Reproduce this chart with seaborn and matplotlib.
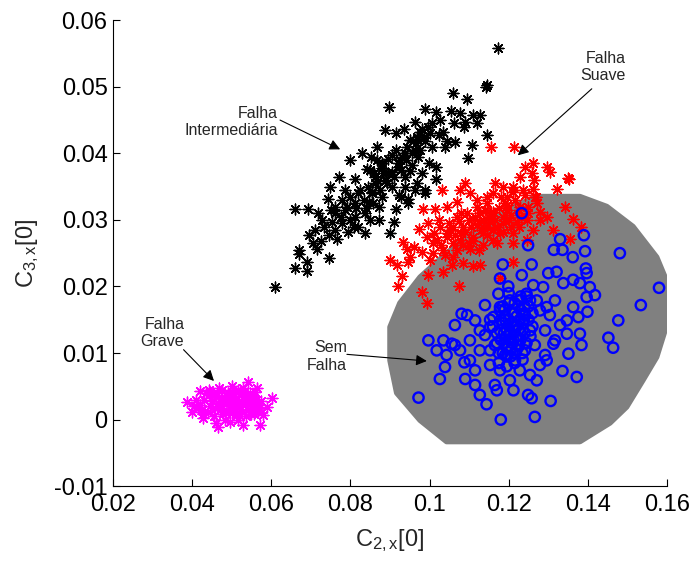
import pandas as pd
import matplotlib.pyplot as plt
import seaborn as sns

sns.set_theme(style="ticks")
plt.rcParams['font.family'] = ['Liberation Sans', 'DejaVu Sans']
plt.rcParams['mathtext.fontset'] = 'custom'
plt.rcParams['mathtext.rm'] = 'Liberation Sans'
plt.rcParams['mathtext.it'] = 'Liberation Sans:italic'

# Falha Intermediaria (black stars)
inter_x = [0.1173, 0.1142, 0.1146, 0.1058, 0.1094, 0.0898, 0.0989, 0.1016, 0.1055, 0.1077,
           0.1111, 0.1090, 0.1120, 0.1027, 0.1061, 0.1146, 0.1106, 0.1097, 0.0964, 0.0981,
           0.0935, 0.0914, 0.0888, 0.0968, 0.0989, 0.1023, 0.1044, 0.1065, 0.0867, 0.0829,
           0.0853, 0.0799, 0.0905, 0.0939, 0.0964, 0.1006, 0.1040, 0.0880, 0.0841, 0.0922,
           0.0956, 0.0998, 0.1015, 0.0772, 0.0812, 0.0863, 0.0896, 0.0939, 0.0981, 0.1015,
           0.0968, 0.0939, 0.0905, 0.0863, 0.0747, 0.0786, 0.0820, 0.0854, 0.0879, 0.0922,
           0.0964, 0.0989, 0.0744, 0.0778, 0.0812, 0.0846, 0.0871, 0.0914, 0.0946, 0.0929,
           0.0660, 0.0692, 0.0719, 0.0762, 0.0787, 0.0812, 0.0837, 0.0871, 0.0909, 0.0850,
           0.0729, 0.0754, 0.0779, 0.0808, 0.0837, 0.0795, 0.0762, 0.0745, 0.0766, 0.0900,
           0.0694, 0.0711, 0.0715, 0.0669, 0.0669, 0.0690, 0.0745, 0.0660, 0.0690, 0.0609,
           0.0849, 0.0882, 0.0866, 0.0925, 0.0942, 0.0976, 0.0967, 0.1001, 0.1035, 0.1086,
           0.1128, 0.0989, 0.0945,
           0.0760, 0.0775, 0.0790, 0.0800, 0.0815, 0.0825, 0.0835, 0.0845, 0.0855, 0.0860,
           0.0870, 0.0880, 0.0890, 0.0895, 0.0905, 0.0915, 0.0920, 0.0930, 0.0940, 0.0950,
           0.0955, 0.0965, 0.0975, 0.0985, 0.0995, 0.1005, 0.0800, 0.0820, 0.0840, 0.0858,
           0.0875, 0.0893, 0.0910, 0.0928, 0.0950, 0.0970, 0.0733, 0.0750, 0.0705, 0.0725]
inter_y = [0.0559, 0.0499, 0.0502, 0.0490, 0.0482, 0.0470, 0.0467, 0.0462, 0.0464, 0.0461,
           0.0457, 0.0447, 0.0445, 0.0450, 0.0446, 0.0428, 0.0413, 0.0393, 0.0447, 0.0437,
           0.0437, 0.0430, 0.0435, 0.0422, 0.0419, 0.0427, 0.0419, 0.0417, 0.0410, 0.0400,
           0.0395, 0.0390, 0.0397, 0.0400, 0.0405, 0.0410, 0.0410, 0.0385, 0.0377, 0.0380,
           0.0382, 0.0385, 0.0380, 0.0364, 0.0362, 0.0364, 0.0370, 0.0364, 0.0370, 0.0362,
           0.0355, 0.0350, 0.0350, 0.0355, 0.0350, 0.0345, 0.0340, 0.0342, 0.0334, 0.0337,
           0.0345, 0.0340, 0.0332, 0.0330, 0.0325, 0.0327, 0.0320, 0.0317, 0.0325, 0.0335,
           0.0316, 0.0317, 0.0310, 0.0310, 0.0315, 0.0305, 0.0310, 0.0300, 0.0297, 0.0300,
           0.0300, 0.0297, 0.0295, 0.0290, 0.0281, 0.0282, 0.0285, 0.0277, 0.0272, 0.0281,
           0.0277, 0.0285, 0.0257, 0.0255, 0.0249, 0.0237, 0.0243, 0.0227, 0.0223, 0.0199,
           0.0375, 0.0370, 0.0390, 0.0390, 0.0410, 0.0405, 0.0425, 0.0430, 0.0432, 0.0440,
           0.0457, 0.0345, 0.0331,
           0.0320, 0.0305, 0.0320, 0.0335, 0.0318, 0.0345, 0.0330, 0.0350, 0.0340, 0.0370,
           0.0358, 0.0378, 0.0360, 0.0392, 0.0372, 0.0405, 0.0385, 0.0395, 0.0390, 0.0420,
           0.0400, 0.0415, 0.0432, 0.0425, 0.0440, 0.0445, 0.0300, 0.0290, 0.0318, 0.0325,
           0.0345, 0.0355, 0.0365, 0.0375, 0.0373, 0.0395, 0.0290, 0.0315, 0.0265, 0.0268]

# Falha Suave (red stars)
suave_x = [0.1155, 0.1213, 0.1261, 0.1296, 0.1304, 0.1241, 0.1229, 0.1258, 0.1264, 0.1352,
           0.1321, 0.1090, 0.1077, 0.1102, 0.1165, 0.1186, 0.1161, 0.1195, 0.1212, 0.1237,
           0.1262, 0.1266, 0.1031, 0.0984, 0.1014, 0.1043, 0.1069, 0.1119, 0.1144, 0.1069,
           0.1094, 0.1127, 0.1161, 0.1195, 0.1229, 0.1271, 0.1279, 0.1296, 0.0997, 0.0972,
           0.1026, 0.1052, 0.1085, 0.1119, 0.1153, 0.1186, 0.1220, 0.1245, 0.0934, 0.0942,
           0.0993, 0.1009, 0.1043, 0.1077, 0.1110, 0.1144, 0.1178, 0.1212, 0.1262, 0.1279,
           0.0900, 0.0917, 0.0946, 0.0980, 0.1009, 0.1035, 0.1069, 0.1102, 0.1136, 0.1170,
           0.1212, 0.1245, 0.0930, 0.0921, 0.0997, 0.1035, 0.1056, 0.1085, 0.1127, 0.1212,
           0.1178, 0.0980, 0.0993, 0.1075, 0.1110, 0.1313, 0.1355, 0.1342, 0.1363, 0.1350,
           0.1384, 0.1100, 0.1150, 0.1130, 0.1170, 0.1200, 0.1080, 0.1050, 0.1140, 0.1190,
           0.1230, 0.1060, 0.1100, 0.1160, 0.1125, 0.1020, 0.1000, 0.1060,
           0.1010, 0.1030, 0.1045, 0.1060, 0.1075, 0.1090, 0.1105, 0.1115, 0.1125, 0.1135,
           0.1145, 0.1155, 0.1165, 0.1175, 0.1185, 0.1195, 0.1205, 0.1215, 0.1225, 0.1240,
           0.1250, 0.1040, 0.1065, 0.1085, 0.1110, 0.1135, 0.1160, 0.1185, 0.1205, 0.1225,
           0.1250, 0.1270, 0.1080, 0.1120, 0.1180, 0.1210, 0.0960, 0.0950, 0.1025, 0.1145]
suave_y = [0.0409, 0.0410, 0.0385, 0.0380, 0.0372, 0.0380, 0.0365, 0.0370, 0.0360, 0.0361,
           0.0347, 0.0355, 0.0345, 0.0340, 0.0355, 0.0350, 0.0340, 0.0335, 0.0342, 0.0345,
           0.0347, 0.0335, 0.0345, 0.0317, 0.0317, 0.0320, 0.0327, 0.0330, 0.0325, 0.0305,
           0.0310, 0.0310, 0.0312, 0.0315, 0.0320, 0.0325, 0.0312, 0.0305, 0.0295, 0.0287,
           0.0290, 0.0285, 0.0290, 0.0292, 0.0297, 0.0295, 0.0297, 0.0300, 0.0267, 0.0257,
           0.0275, 0.0265, 0.0275, 0.0270, 0.0275, 0.0277, 0.0280, 0.0280, 0.0285, 0.0300,
           0.0240, 0.0232, 0.0237, 0.0252, 0.0250, 0.0255, 0.0255, 0.0257, 0.0262, 0.0265,
           0.0265, 0.0270, 0.0215, 0.0200, 0.0217, 0.0222, 0.0232, 0.0235, 0.0232, 0.0237,
           0.0212, 0.0192, 0.0175, 0.0200, 0.0230, 0.0285, 0.0272, 0.0320, 0.0302, 0.0363,
           0.0290, 0.0300, 0.0305, 0.0285, 0.0290, 0.0300, 0.0280, 0.0295, 0.0315, 0.0325,
           0.0305, 0.0265, 0.0265, 0.0270, 0.0255, 0.0270, 0.0240, 0.0245,
           0.0280, 0.0262, 0.0280, 0.0290, 0.0298, 0.0282, 0.0290, 0.0305, 0.0295, 0.0300,
           0.0290, 0.0310, 0.0300, 0.0318, 0.0305, 0.0322, 0.0308, 0.0330, 0.0315, 0.0338,
           0.0320, 0.0248, 0.0278, 0.0262, 0.0268, 0.0280, 0.0285, 0.0282, 0.0290, 0.0290,
           0.0310, 0.0335, 0.0310, 0.0320, 0.0335, 0.0350, 0.0260, 0.0245, 0.0300, 0.0335]

# Falha Grave (magenta stars)
grave_x = [0.0542, 0.0563, 0.0601, 0.0386, 0.0420, 0.0445, 0.0466, 0.0529, 0.0571, 0.0580,
           0.0399, 0.0428, 0.0496, 0.0588, 0.0430, 0.0445, 0.0460, 0.0470, 0.0480, 0.0490,
           0.0500, 0.0510, 0.0520, 0.0530, 0.0540, 0.0550, 0.0560, 0.0455, 0.0475, 0.0495,
           0.0515, 0.0535, 0.0545, 0.0465, 0.0485, 0.0505, 0.0525, 0.0440, 0.0420, 0.0410,
           0.0570, 0.0555, 0.0500, 0.0482, 0.0515, 0.0468, 0.0528, 0.0448, 0.0558,
           0.0425, 0.0435, 0.0450, 0.0458, 0.0472, 0.0478, 0.0488, 0.0493, 0.0503, 0.0508,
           0.0518, 0.0523, 0.0533, 0.0538, 0.0548, 0.0553, 0.0563, 0.0566, 0.0415, 0.0428,
           0.0442, 0.0462, 0.0487, 0.0512, 0.0537, 0.0552, 0.0472, 0.0498, 0.0522, 0.0545,
           0.0405, 0.0575, 0.0460, 0.0506, 0.0532]
grave_y = [0.0056, 0.0047, 0.0032, 0.0027, 0.0043, 0.0042, -0.0011, -0.0008, -0.0008, 0.0007,
           0.0012, 0.0002, -0.0003, 0.0019, 0.0030, 0.0020, 0.0035, 0.0015, 0.0025, 0.0040,
           0.0010, 0.0030, 0.0020, 0.0035, 0.0015, 0.0025, 0.0030, 0.0005, 0.0045, 0.0020,
           0.0045, 0.0005, 0.0040, 0.0025, 0.0010, 0.0025, 0.0012, 0.0012, 0.0022, 0.0030,
           0.0018, 0.0008, 0.0050, 0.0000, 0.0000, 0.0048, 0.0048, 0.0038, 0.0042,
           0.0015, 0.0040, 0.0028, 0.0018, 0.0032, 0.0008, 0.0030, 0.0012, 0.0040, 0.0018,
           0.0028, 0.0038, 0.0022, 0.0030, 0.0008, 0.0035, 0.0022, 0.0012, 0.0018, 0.0008,
           0.0045, 0.0040, 0.0035, 0.0010, 0.0028, 0.0018, 0.0022, 0.0032, 0.0005, 0.0030,
           0.0020, 0.0028, -0.0005, 0.0035, 0.0042]

# Sem Falha (blue circles)
sem_x = [0.1233, 0.1390, 0.1330, 0.1249, 0.1314, 0.1336, 0.1362, 0.1393, 0.1481, 0.1185,
         0.1258, 0.1321, 0.1395, 0.1397, 0.1233, 0.1178, 0.1300, 0.1580, 0.1199, 0.1174,
         0.1262, 0.1287, 0.1338, 0.1363, 0.1380, 0.1405, 0.1418, 0.1397, 0.1534, 0.1081,
         0.1095, 0.1477, 0.1399, 0.1376, 0.1064, 0.0997, 0.1035, 0.1056, 0.1018, 0.1043,
         0.1039, 0.1026, 0.0972, 0.1088, 0.1090, 0.1127, 0.1144, 0.1180, 0.1266, 0.1306,
         0.1249, 0.1258, 0.1336, 0.1372, 0.1384, 0.1380, 0.1351, 0.1452, 0.1464, 0.1153,
         0.1178, 0.1203, 0.1228, 0.1254, 0.1279, 0.1178, 0.1165, 0.1191, 0.1216, 0.1241,
         0.1266, 0.1292, 0.1304, 0.1228, 0.1203, 0.1254, 0.1140, 0.1127, 0.1153, 0.1178,
         0.1115, 0.1102, 0.1115, 0.1140, 0.1317, 0.1292, 0.1317, 0.1330, 0.1228, 0.1203,
         0.1165, 0.1254, 0.1279, 0.1216, 0.1241, 0.1191, 0.1153, 0.1127, 0.1102, 0.1077,
         0.1115, 0.1064, 0.1170, 0.1212, 0.1271, 0.1296, 0.1313, 0.1347, 0.1347, 0.1363,
         0.1296, 0.1271, 0.1245, 0.1178, 0.1161, 0.1153, 0.1195, 0.1210, 0.1225, 0.1200,
         0.1185, 0.1235, 0.1215, 0.1190, 0.1240, 0.1205, 0.1220, 0.1180, 0.1250, 0.1170,
         0.1230, 0.1200, 0.1260, 0.1175,
         0.1185, 0.1195, 0.1205, 0.1215, 0.1225, 0.1235, 0.1245, 0.1190, 0.1200, 0.1210,
         0.1220, 0.1230, 0.1240, 0.1195, 0.1205, 0.1215, 0.1225, 0.1235, 0.1180, 0.1190,
         0.1200, 0.1210, 0.1220, 0.1230, 0.1240, 0.1250, 0.1170, 0.1160, 0.1185, 0.1200,
         0.1215, 0.1230, 0.1245, 0.1260, 0.1175, 0.1195, 0.1215, 0.1235, 0.1255, 0.1205,
         0.1225, 0.1188, 0.1212, 0.1238, 0.1198, 0.1222]
sem_y = [0.0310, 0.0277, 0.0271, 0.0262, 0.0255, 0.0255, 0.0244, 0.0253, 0.0250, 0.0233,
         0.0233, 0.0222, 0.0227, 0.0220, 0.0217, 0.0212, 0.0220, 0.0198, 0.0200, 0.0189,
         0.0202, 0.0199, 0.0205, 0.0210, 0.0205, 0.0199, 0.0187, 0.0184, 0.0172, 0.0159,
         0.0157, 0.0149, 0.0162, 0.0154, 0.0142, 0.0119, 0.0119, 0.0114, 0.0104, 0.0097,
         0.0079, 0.0061, 0.0033, 0.0086, 0.0061, 0.0037, 0.0023, 0.0000, 0.0004, 0.0028,
         0.0037, 0.0032, 0.0073, 0.0064, 0.0112, 0.0129, 0.0099, 0.0123, 0.0108, 0.0150,
         0.0134, 0.0119, 0.0150, 0.0134, 0.0164, 0.0164, 0.0112, 0.0097, 0.0089, 0.0104,
         0.0112, 0.0134, 0.0157, 0.0179, 0.0179, 0.0179, 0.0127, 0.0104, 0.0082, 0.0074,
         0.0074, 0.0119, 0.0149, 0.0172, 0.0119, 0.0097, 0.0179, 0.0142, 0.0074, 0.0059,
         0.0052, 0.0067, 0.0082, 0.0134, 0.0157, 0.0150, 0.0104, 0.0134, 0.0089, 0.0104,
         0.0052, 0.0112, 0.0044, 0.0044, 0.0059, 0.0089, 0.0114, 0.0129, 0.0149, 0.0169,
         0.0169, 0.0179, 0.0189, 0.0169, 0.0154, 0.0139, 0.0125, 0.0140, 0.0120, 0.0110,
         0.0145, 0.0135, 0.0160, 0.0165, 0.0170, 0.0095, 0.0105, 0.0120, 0.0150, 0.0130,
         0.0185, 0.0190, 0.0160, 0.0100,
         0.0100, 0.0095, 0.0105, 0.0100, 0.0110, 0.0100, 0.0115, 0.0115, 0.0120, 0.0115,
         0.0125, 0.0120, 0.0130, 0.0135, 0.0130, 0.0140, 0.0135, 0.0145, 0.0150, 0.0155,
         0.0150, 0.0160, 0.0155, 0.0165, 0.0160, 0.0170, 0.0115, 0.0140, 0.0170, 0.0175,
         0.0175, 0.0180, 0.0185, 0.0140, 0.0085, 0.0080, 0.0085, 0.0090, 0.0125, 0.0145,
         0.0170, 0.0130, 0.0120, 0.0150, 0.0108, 0.0142]

# boundary of the grey "Sem Falha" region
region_x = [0.1271, 0.1380, 0.1448, 0.1514, 0.1574, 0.1595, 0.1599, 0.1595, 0.1574, 0.1539,
            0.1498, 0.1456, 0.1380, 0.1043, 0.0976, 0.0917, 0.0900, 0.0900, 0.0925, 0.0976,
            0.1043, 0.1127, 0.1211]
region_y = [0.0335, 0.0335, 0.0320, 0.0290, 0.0244, 0.0214, 0.0175, 0.0134, 0.0094, 0.0059,
            0.0019, -0.0005, -0.0033, -0.0033, -0.0001, 0.0040, 0.0089, 0.0139, 0.0175, 0.0214,
            0.0250, 0.0290, 0.0320]

df_inter = pd.DataFrame({'c2': inter_x, 'c3': inter_y})
df_suave = pd.DataFrame({'c2': suave_x, 'c3': suave_y})
df_grave = pd.DataFrame({'c2': grave_x, 'c3': grave_y})
df_sem = pd.DataFrame({'c2': sem_x, 'c3': sem_y})

fig, ax = plt.subplots(figsize=(6.94, 5.62), dpi=100)
fig.subplots_adjust(left=0.163, right=0.961, bottom=0.135, top=0.964)

# grey region, rounded edge like the dotted MATLAB patch
ax.fill(region_x, region_y, color='#808080', lw=4, ec='#808080', joinstyle='round', zorder=1)

star = (8, 2, 0)
sns.scatterplot(data=df_inter, x='c2', y='c3', marker=star, color='black', s=60, linewidth=1.0, ax=ax, zorder=2)
sns.scatterplot(data=df_suave, x='c2', y='c3', marker=star, color='red', s=60, linewidth=1.0, ax=ax, zorder=3)
sns.scatterplot(data=df_grave, x='c2', y='c3', marker=star, color='magenta', s=60, linewidth=1.0, ax=ax, zorder=3)
sns.scatterplot(data=df_sem, x='c2', y='c3', marker='o', facecolor='none', edgecolor='blue', s=55, linewidth=1.7, ax=ax, zorder=4)

# annotations
arrow = dict(arrowstyle='-|>', color='black', lw=0.8, mutation_scale=16, shrinkA=0, shrinkB=0)
ax.annotate('', xy=(0.0774, 0.0406), xytext=(0.0622, 0.0450), arrowprops=arrow, zorder=5)
ax.text(0.0617, 0.0447, 'Falha\nIntermediária', ha='right', va='center', fontsize=11.5)
ax.annotate('', xy=(0.1223, 0.0397), xytext=(0.1410, 0.0497), arrowprops=arrow, zorder=5)
ax.text(0.1495, 0.0530, 'Falha\nSuave', ha='right', va='center', fontsize=11.5)
ax.annotate('', xy=(0.0993, 0.0088), xytext=(0.0791, 0.0098), arrowprops=arrow, zorder=5)
ax.text(0.0791, 0.0095, 'Sem\nFalha', ha='right', va='center', fontsize=11.5)
ax.annotate('', xy=(0.0455, 0.0058), xytext=(0.0378, 0.0105), arrowprops=arrow, zorder=5)
ax.text(0.0380, 0.0130, 'Falha\nGrave', ha='right', va='center', fontsize=11.5)

ax.set_xlim(0.02, 0.16)
ax.set_ylim(-0.01, 0.06)
ax.set_xticks([0.02, 0.04, 0.06, 0.08, 0.1, 0.12, 0.14, 0.16])
ax.set_xticklabels(['0.02', '0.04', '0.06', '0.08', '0.1', '0.12', '0.14', '0.16'])
ax.set_yticks([-0.01, 0, 0.01, 0.02, 0.03, 0.04, 0.05, 0.06])
ax.set_yticklabels(['-0.01', '0', '0.01', '0.02', '0.03', '0.04', '0.05', '0.06'])
ax.tick_params(direction='in', length=5, width=0.8, labelsize=17, colors='black')
ax.tick_params(axis='x', pad=6)
ax.tick_params(axis='y', pad=4)
for sp in ['left', 'bottom']:
    ax.spines[sp].set_color('black')
    ax.spines[sp].set_linewidth(0.8)
sns.despine(ax=ax)

ax.set_xlabel(r'C$_{\mathrm{2,x}}$[0]', fontsize=17)
ax.set_ylabel(r'C$_{\mathrm{3,x}}$[0]', fontsize=17)
ax.xaxis.set_label_coords(0.5, -0.088)
ax.yaxis.set_label_coords(-0.13, 0.5)

plt.savefig('out.png', dpi=100)
